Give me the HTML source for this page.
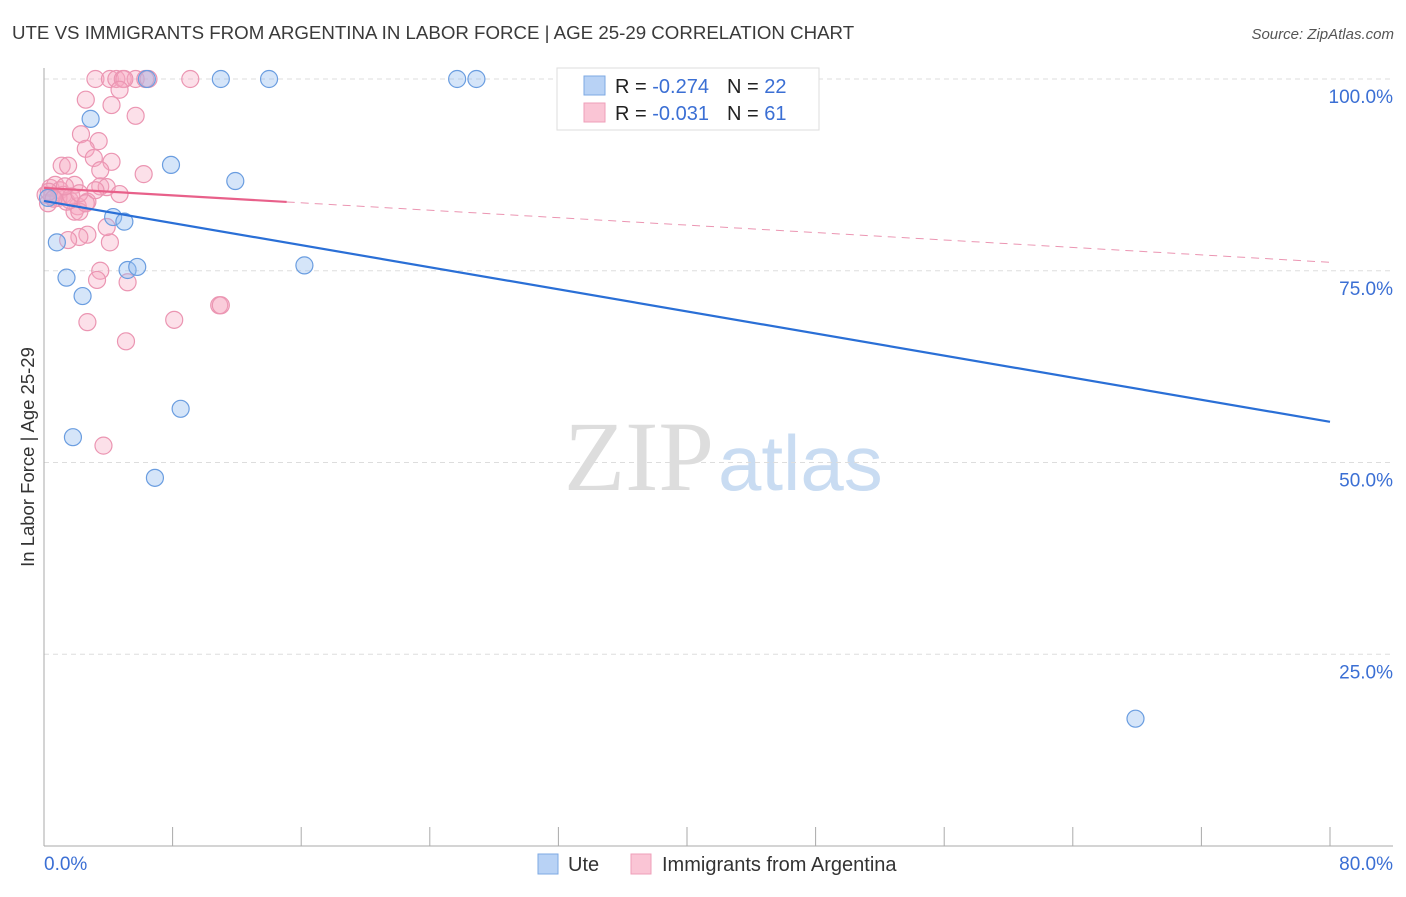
<!DOCTYPE html>
<html><head><meta charset="utf-8"><style>
body{margin:0;background:#fff;font-family:"Liberation Sans",sans-serif}
</style></head><body>
<svg id="chart" width="1406" height="892" xmlns="http://www.w3.org/2000/svg" font-family="Liberation Sans, sans-serif">
<text x="12" y="39" font-size="18.7" fill="#3a3a3a">UTE VS IMMIGRANTS FROM ARGENTINA IN LABOR FORCE | AGE 25-29 CORRELATION CHART</text>
<text x="1394" y="39" font-size="15" fill="#555" text-anchor="end" font-style="italic">Source: ZipAtlas.com</text>
<text x="714" y="490" font-size="100" text-anchor="end" fill="#ddd" font-family="Liberation Serif, serif">ZIP</text>
<text x="718" y="490" font-size="78" fill="#c9dcf2">atlas</text>
<text transform="translate(34,457) rotate(-90)" font-size="18.5" fill="#333" text-anchor="middle">In Labor Force | Age 25-29</text>
<g id="grid"></g><g id="axes"></g><g id="pts"></g><g id="lines"></g>
<g>
<rect x="557" y="68" width="262" height="62" fill="#fff" stroke="#ddd"/>
<rect x="584" y="76" width="21" height="19" fill="#b8d2f5" stroke="#7ea9e3"/>
<rect x="584" y="103" width="21" height="19" fill="#fac5d5" stroke="#ef9fb9"/>
<text x="615" y="93" font-size="20" fill="#222">R = <tspan fill="#3b6fd4">-0.274</tspan><tspan dx="18">N = </tspan><tspan fill="#3b6fd4">22</tspan></text>
<text x="615" y="120" font-size="20" fill="#222">R = <tspan fill="#3b6fd4">-0.031</tspan><tspan dx="18">N = </tspan><tspan fill="#3b6fd4"> 61</tspan></text>
</g>
<g>
<rect x="538" y="854" width="20" height="20" fill="#b8d2f5" stroke="#7ea9e3"/>
<text x="568" y="871" font-size="20" fill="#333">Ute</text>
<rect x="631" y="854" width="20" height="20" fill="#fac5d5" stroke="#ef9fb9"/>
<text x="662" y="871" font-size="20" fill="#333">Immigrants from Argentina</text>
</g>
</svg>
<script>
const yTicks=[100,75,50,25];
const yTickLabels=["100.0%","75.0%","50.0%","25.0%"];
const xTickLabels=["0.0%","80.0%"];
const uteX=[6.4,11.0,14.0,25.7,26.9,44.2,2.9,7.9,11.9,4.3,5.0,0.8,5.2,5.8,16.2,1.4,2.4,8.5,1.8,6.9,67.9,0.25];
const uteY=[100,100,100,100,100,100,94.8,88.8,86.7,82.0,81.4,78.7,75.1,75.5,75.7,74.1,71.7,57.0,53.3,48.0,16.6,84.5];
const argX=[3.2,4.1,4.5,4.9,5.7,6.3,6.5,9.1,5.0,2.6,4.7,4.2,5.7,2.3,3.4,2.6,3.1,4.2,3.5,6.2,1.1,1.5,2.1,2.7,1.9,2.2,2.7,2.2,1.5,4.1,3.9,3.5,3.3,5.2,2.7,8.1,10.9,5.1,3.7,3.5,3.9,4.7,3.2,0.1,0.4,0.7,1.0,1.2,1.6,1.9,0.25,0.9,1.4,1.7,0.5,2.2,2.6,0.3,0.6,1.3,11.0];
const argY=[100,100,100,100,100,100,100,100,100,97.3,98.6,96.6,95.2,92.8,91.9,90.9,89.7,89.2,88.1,87.6,88.7,88.7,83.4,84.0,82.7,82.7,79.7,79.4,79.0,78.7,80.7,75.0,73.8,73.5,68.3,68.6,70.5,65.8,52.2,86.0,85.9,85.0,85.5,84.9,85.8,86.2,85.5,84.9,84.2,86.2,83.8,84.5,84.0,84.7,84.7,85.1,83.8,85.3,84.4,86.0,70.5];
const uteLine=[84.1,55.3];
const argLine=[85.8,76.1];
const argSolidEnd=15.1;
const NS="http://www.w3.org/2000/svg";
const X=v=>44+v*1286/80, Y=v=>846-v*7.67;
function mk(tag,attrs,parent){const e=document.createElementNS(NS,tag);for(const k in attrs)e.setAttribute(k,attrs[k]);parent.appendChild(e);return e;}
const grid=document.getElementById('grid'),axes=document.getElementById('axes'),pts=document.getElementById('pts'),lines=document.getElementById('lines');
yTicks.forEach((t,i)=>{
 const l=mk('line',{x1:44,x2:1393,y1:Y(t),y2:Y(t),stroke:'#ddd','stroke-dasharray':'5,4'},grid);
 
 
 const tx=mk('text',{x:1393,y:Y(t)+24,'font-size':19,fill:'#3b6fd4','text-anchor':'end'},axes);
 tx.textContent=yTickLabels[i];
 
 
});
const ax=mk('line',{x1:44,x2:44,y1:68,y2:846,stroke:'#aaa'},axes);


const bx=mk('line',{x1:44,x2:1393,y1:846,y2:846,stroke:'#aaa'},axes);


for(let i=0;i<=10;i++){const t=mk('line',{x1:X(i*8),x2:X(i*8),y1:827,y2:846,stroke:'#aaa'},axes);
 
 }
[[0,'start',44],[80,'end',1393]].forEach((d,i)=>{const t=mk('text',{x:d[2],y:870,'font-size':19,fill:'#3b6fd4','text-anchor':d[1]},axes);t.textContent=xTickLabels[i];
 
 });
argX.forEach((v,i)=>{const c=mk('circle',{cx:X(v),cy:Y(argY[i]),r:8.5,fill:'rgba(246,165,192,0.35)',stroke:'#eb95b2','stroke-width':1.2},pts);
 
 });
uteX.forEach((v,i)=>{const c=mk('circle',{cx:X(v),cy:Y(uteY[i]),r:8.5,fill:'rgba(150,190,240,0.4)',stroke:'#6a9de0','stroke-width':1.2},pts);
 
 });
const ul=mk('line',{x1:X(0),y1:Y(uteLine[0]),x2:X(80),y2:Y(uteLine[1]),stroke:'#2a6fd6','stroke-width':2.2},lines);


const ay=x=>argLine[0]+(argLine[1]-argLine[0])*x/80;
const al=mk('line',{x1:X(0),y1:Y(argLine[0]),x2:X(argSolidEnd),y2:Y(ay(argSolidEnd)),stroke:'#e8608a','stroke-width':2.2},lines);


const ad=mk('line',{x1:X(argSolidEnd),y1:Y(ay(argSolidEnd)),x2:X(80),y2:Y(argLine[1]),stroke:'#eb95b2','stroke-width':1,'stroke-dasharray':'8,6'},lines);


</script>
</body></html>
